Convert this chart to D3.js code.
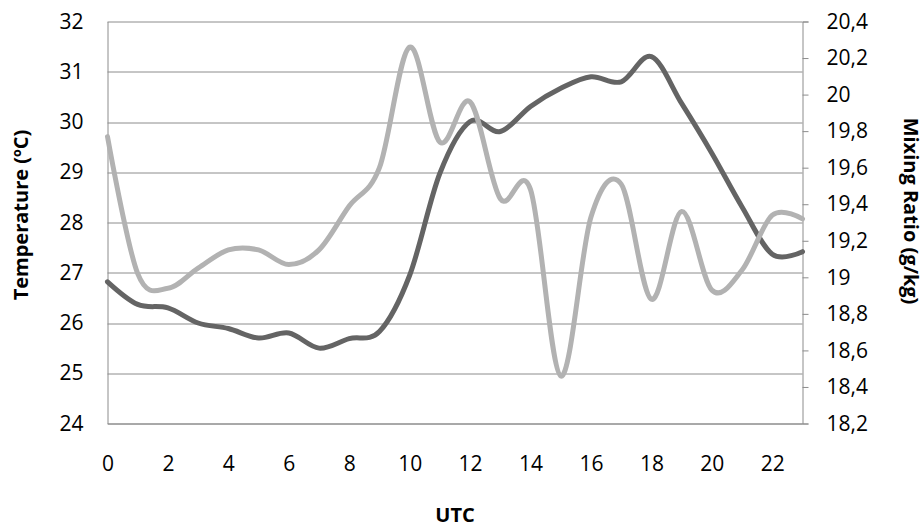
<!DOCTYPE html>
<html>
<head>
<meta charset="utf-8">
<script src="https://cdn.jsdelivr.net/npm/d3@7"></script>
<style>
  body { margin: 0; background: #fff; }
  svg text { font-family: "Open Sans", sans-serif; fill: #000; }
</style>
</head>
<body>
<svg id="chart" width="924" height="529"></svg>
<script>
// Hourly values
const hours = d3.range(0, 24);
const temperature = [26.82, 26.37, 26.3, 26.0, 25.89, 25.7, 25.8, 25.5, 25.69, 25.83, 26.95, 28.98,
  30.01, 29.81, 30.31, 30.67, 30.9, 30.8, 31.3, 30.37, 29.38, 28.31, 27.37, 27.42];
const mixingRatio = [19.77, 19.02, 18.94, 19.05, 19.15, 19.15, 19.07, 19.15, 19.39, 19.6, 20.26, 19.74,
  19.96, 19.43, 19.48, 18.46, 19.33, 19.51, 18.88, 19.36, 18.93, 19.04, 19.34, 19.32];
const tempTicks = [24, 25, 26, 27, 28, 29, 30, 31, 32];
const mrTicks = [18.2, 18.4, 18.6, 18.8, 19, 19.2, 19.4, 19.6, 19.8, 20, 20.2, 20.4];
const hourTicks = [0, 2, 4, 6, 8, 10, 12, 14, 16, 18, 20, 22];

const margin = { left: 107.5, right: 924 - 802.5, top: 21.5, bottom: 529 - 423.5 };
const svg = d3.select("#chart");
const w = 924 - margin.left - margin.right;
const h = 529 - margin.top - margin.bottom;
const g = svg.append("g").attr("transform", `translate(${margin.left},${margin.top})`);

const x = d3.scaleLinear().domain([0, 23]).range([0, w]);
const yT = d3.scaleLinear().domain([24, 32]).range([h, 0]);
const yM = d3.scaleLinear().domain([18.2, 20.4]).range([h, 0]);

const gridColour = "#8c8c8c";
const tickFont = "21px";

// horizontal gridlines from the temperature axis
g.append("g")
  .selectAll("line")
  .data(tempTicks)
  .join("line")
  .attr("x1", 0).attr("x2", w)
  .attr("y1", d => Math.round(yT(d)) + 0.5).attr("y2", d => Math.round(yT(d)) + 0.5)
  .attr("stroke", gridColour).attr("stroke-width", 1);

// left axis
const leftAxis = g.append("g")
  .call(d3.axisLeft(yT).tickValues(tempTicks).tickSize(0).tickPadding(24).tickFormat(d3.format("d")));
leftAxis.select(".domain").attr("stroke", gridColour);
leftAxis.selectAll("text").style("font-size", tickFont);

// right axis with comma decimals
const commaFmt = d => String(d).replace(".", ",");
const rightAxis = g.append("g")
  .attr("transform", `translate(${w},0)`)
  .call(d3.axisRight(yM).tickValues(mrTicks).tickSize(6).tickPadding(18).tickFormat(commaFmt));
rightAxis.select(".domain").attr("stroke", gridColour);
rightAxis.selectAll("line").attr("stroke", gridColour);
rightAxis.selectAll("text").style("font-size", tickFont);

// bottom axis
const bottomAxis = g.append("g")
  .attr("transform", `translate(0,${h})`)
  .call(d3.axisBottom(x).tickValues(hourTicks).tickSize(0).tickPadding(33).tickFormat(d3.format("d")));
bottomAxis.select(".domain").attr("stroke", gridColour);
bottomAxis.selectAll("text").style("font-size", tickFont);

// series
const tempLine = d3.line().x((d, i) => x(hours[i])).y(d => yT(d)).curve(d3.curveCardinal.tension(0));
const mrLine = d3.line().x((d, i) => x(hours[i])).y(d => yM(d)).curve(d3.curveCardinal.tension(0));

g.append("path").datum(temperature)
  .attr("d", tempLine)
  .attr("fill", "none").attr("stroke", "#646464").attr("stroke-width", 5)
  .attr("stroke-linejoin", "round").attr("stroke-linecap", "round");

g.append("path").datum(mixingRatio)
  .attr("d", mrLine)
  .attr("fill", "none").attr("stroke", "#b2b2b2").attr("stroke-width", 5)
  .attr("stroke-linejoin", "round").attr("stroke-linecap", "round");

// titles
svg.append("text")
  .attr("transform", "translate(28,215) rotate(-90)")
  .attr("text-anchor", "middle")
  .style("font-size", "20px").style("font-weight", "bold")
  .text("Temperature (ºC)");

svg.append("text")
  .attr("transform", "translate(904,211) rotate(90)")
  .attr("text-anchor", "middle")
  .style("font-size", "20px").style("font-weight", "bold")
  .text("Mixing Ratio (g/kg)");

svg.append("text")
  .attr("x", 455).attr("y", 522)
  .attr("text-anchor", "middle")
  .style("font-size", "20px").style("font-weight", "bold")
  .text("UTC");
</script>
</body>
</html>
